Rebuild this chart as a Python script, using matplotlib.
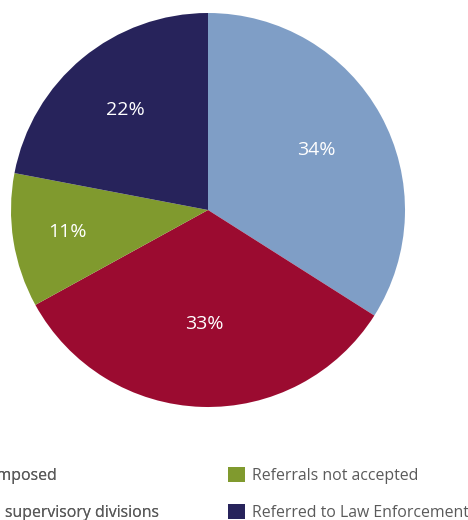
import matplotlib
matplotlib.use("Agg")
import matplotlib.pyplot as plt
from matplotlib.patches import Patch

plt.rcParams['font.family'] = ['Open Sans', 'DejaVu Sans']

# data
labels = ["Sanctions imposed", "Referred to supervisory divisions",
          "Referrals not accepted", "Referred to Law Enforcement"]
shares = [34, 33, 11, 22]
colors = ["#7f9ec6", "#9b0b30", "#809a2e", "#27235b"]
# distance of each % label from the centre (fraction of radius)
label_dist = [0.63, 0.58, 0.72, 0.66]

fig = plt.figure(figsize=(4.68, 5.2), dpi=100)
ax = fig.add_axes([11 / 468, 113 / 520, 394 / 468, 394 / 520])

wedges, texts, autotexts = ax.pie(shares, colors=colors, startangle=90,
                                  counterclock=False, radius=1,
                                  autopct='%d%%', pctdistance=1.0,
                                  wedgeprops=dict(linewidth=0))
for t, d in zip(autotexts, label_dist):
    x, y = t.get_position()
    t.set_position((x * d, y * d))
    t.set_color("white")
    t.set_fontsize(14)
ax.set_xlim(-1, 1)
ax.set_ylim(-1, 1)
ax.set_aspect('auto')

handles = [Patch(facecolor=c, edgecolor='none') for c in colors]
leg_kw = dict(frameon=False, fontsize=11.4, handlelength=1.05, handleheight=1.05,
              handletextpad=0.45, labelspacing=1.3, borderpad=0, borderaxespad=0,
              labelcolor="#5a5a5a", loc='upper left')

leg1 = fig.legend(handles[:2], labels[:2], bbox_to_anchor=(-107 / 468, 53 / 520), **leg_kw)
fig.add_artist(leg1)
fig.legend(handles[2:], labels[2:], bbox_to_anchor=(228 / 468, 53 / 520), **leg_kw)

fig.savefig("out.png", dpi=100)
